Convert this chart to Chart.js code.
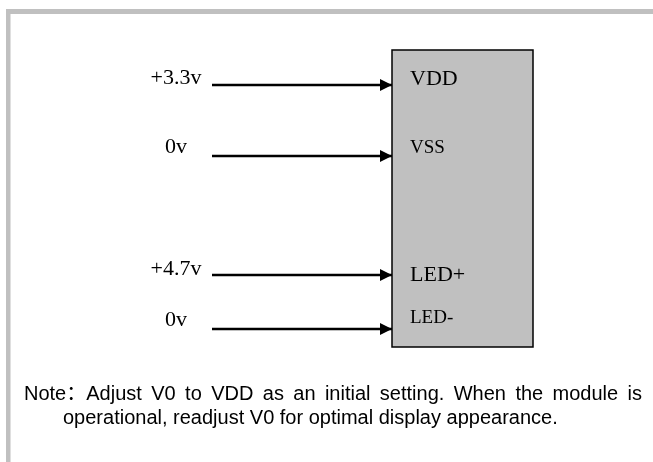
<!DOCTYPE html>
<html>
<head>
<meta charset="utf-8">
<script src="https://cdn.jsdelivr.net/npm/chart.js@4.4.1/dist/chart.umd.min.js"></script>
<style>
    html, body { margin: 0; padding: 0; background: #fff; }
    #wrap { width: 653px; height: 462px; }
</style>
</head>
<body>
<div id="wrap"><canvas id="pinChart" width="653" height="462"></canvas></div>
<script>
    /*
    |--------------------------------------------------------------------------
    | Data
    |--------------------------------------------------------------------------
    */

    const pinNames = ["VDD", "VSS", "LED+", "LED-"];
    const supplyLabels = ["+3.3v", "0v", "+4.7v", "0v"];

    // level of each input line on the (reversed) y axis
    const pinRows = [85, 156, 275, 329];
    const pinNameRows = [85, 153, 281, 323];
    const supplyRows = [84, 153, 275, 326];

    // where the input lines start and where the module begins
    const lineStart = 212;
    const moduleLeft = 392;
    const moduleRight = 533;
    const moduleTop = 50;
    const moduleBottom = 347;

    const noteLines = [
        "Note\uFF1AAdjust V0 to VDD as an initial setting. When the module is",
        "operational, readjust V0 for optimal display appearance.",
    ];

    /*
    |--------------------------------------------------------------------------
    | Styles
    |--------------------------------------------------------------------------
    */

    const GREY = "#c0c0c0";
    const pinNameSizes = [22, 19, 22, 19];
    const serif = '"Liberation Serif", "Times New Roman", serif';
    const sans = '"Liberation Sans", Arial, "Noto Sans CJK SC", sans-serif';

    const diagramPlugin = {
        id: "diagram",

        beforeDatasetsDraw(chart) {
            const { ctx } = chart;
            const x = chart.scales.x;
            const y = chart.scales.y;

            ctx.save();

            // page frame
            ctx.fillStyle = GREY;
            ctx.fillRect(x.getPixelForValue(6), y.getPixelForValue(9), x.getPixelForValue(653) - x.getPixelForValue(6), 5);
            ctx.fillRect(x.getPixelForValue(6), y.getPixelForValue(9), 4.5, y.getPixelForValue(462) - y.getPixelForValue(9));

            // module
            const bx = x.getPixelForValue(moduleLeft);
            const by = y.getPixelForValue(moduleTop);
            const bw = x.getPixelForValue(moduleRight) - bx;
            const bh = y.getPixelForValue(moduleBottom) - by;

            ctx.fillStyle = GREY;
            ctx.fillRect(bx, by, bw, bh);
            ctx.strokeStyle = "#000";
            ctx.lineWidth = 1.5;
            ctx.strokeRect(bx, by, bw, bh);

            ctx.restore();
        },

        afterDatasetsDraw(chart) {
            const { ctx } = chart;
            const x = chart.scales.x;
            const y = chart.scales.y;

            ctx.save();

            // arrow heads at the end of each line
            ctx.fillStyle = "#000";
            chart.data.datasets.forEach((ds, i) => {
                const pts = chart.getDatasetMeta(i).data;
                const tip = pts[pts.length - 1];

                ctx.beginPath();
                ctx.moveTo(tip.x, tip.y);
                ctx.lineTo(tip.x - 12, tip.y - 6);
                ctx.lineTo(tip.x - 12, tip.y + 6);
                ctx.closePath();
                ctx.fill();
            });

            // supply labels
            ctx.textBaseline = "alphabetic";
            ctx.textAlign = "center";
            ctx.font = "22px " + serif;
            supplyLabels.forEach((t, i) => {
                ctx.fillText(t, x.getPixelForValue(176), y.getPixelForValue(supplyRows[i]));
            });

            // pin names
            ctx.textAlign = "left";
            pinNames.forEach((t, i) => {
                ctx.font = pinNameSizes[i] + "px " + serif;
                ctx.fillText(t, x.getPixelForValue(410), y.getPixelForValue(pinNameRows[i]));
            });

            // note, first line justified
            ctx.font = "20px " + sans;

            const words = noteLines[0].split(" ");
            const widths = words.map((w) => ctx.measureText(w).width);
            const left = x.getPixelForValue(24);
            const right = x.getPixelForValue(642);
            const gap = (right - left - widths.reduce((a, b) => a + b, 0)) / (words.length - 1);

            let cx = left;
            words.forEach((w, i) => {
                ctx.fillText(w, cx, y.getPixelForValue(400));
                cx += widths[i] + gap;
            });

            ctx.fillText(noteLines[1], x.getPixelForValue(63), y.getPixelForValue(424));

            ctx.restore();
        },
    };

    /*
    |--------------------------------------------------------------------------
    | Chart
    |--------------------------------------------------------------------------
    */

    new Chart(document.getElementById("pinChart"), {
        type: "scatter",

        data: {
            datasets: pinNames.map((name, i) => ({
                label: name,

                data: [
                    { x: lineStart, y: pinRows[i] },
                    { x: moduleLeft, y: pinRows[i] },
                ],

                showLine: true,
                borderColor: "#000",
                borderWidth: 2.5,
                pointRadius: 0,
                pointHoverRadius: 0,
            })),
        },

        options: {
            responsive: false,
            animation: false,
            devicePixelRatio: 1,

            layout: {
                padding: 0,
            },

            plugins: {
                legend: { display: false },
                tooltip: { enabled: false },
            },

            events: [],

            scales: {
                x: { type: "linear", min: 0, max: 653, display: false },
                y: { type: "linear", min: 0, max: 462, reverse: true, display: false },
            },
        },

        plugins: [diagramPlugin],
    });
</script>
</body>
</html>
